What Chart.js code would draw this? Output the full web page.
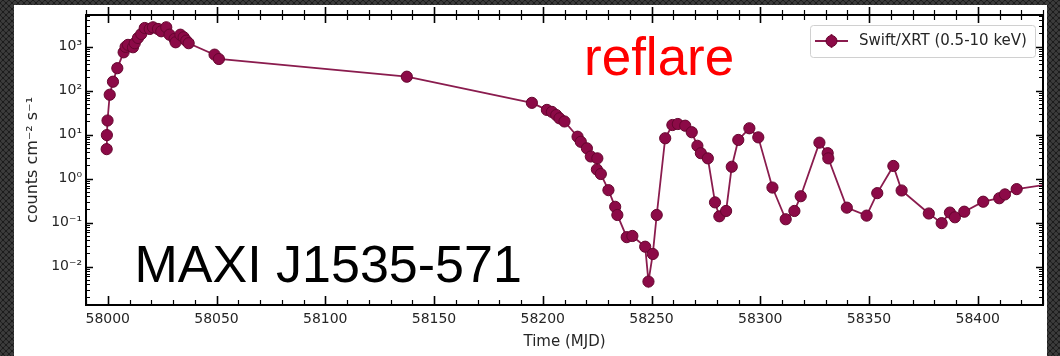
<!DOCTYPE html>
<html><head><meta charset="utf-8">
<script src="https://cdn.jsdelivr.net/npm/chart.js@4"></script>
<style>
html,body{margin:0;padding:0;}
body{width:1060px;height:356px;overflow:hidden;background-color:#1c1c1c;
background-image:radial-gradient(circle at 50% 50%, #3c3c3c 0 1.5px, transparent 2.2px),radial-gradient(circle at 50% 50%, #3c3c3c 0 1.5px, transparent 2.2px);
background-size:6px 6px;background-position:0 0,3px 3px;}
#wrap{position:absolute;left:0;top:0;width:1060px;height:356px;}
</style></head><body>
<div id="wrap"><canvas id="c" width="1060" height="356"></canvas></div>
<script>
// ---- data ----
const mjd = [57999.5,57999.6,57999.9,58000.9,58002.4,58004.4,58007.3,58008.2,58009.3,58011.6,
58012.4,58013.9,58015.4,58017.0,58019.3,58020.8,58023.1,58024.6,58026.9,58028.4,
58030.7,58031.2,58033.4,58034.9,58036.1,58037.2,58049.1,58051.1,58137.5,58195.0,
58201.9,58204.2,58206.2,58207.7,58210.0,58216.0,58217.5,58220.3,58222.1,58225.1,
58224.9,58226.7,58230.2,58233.3,58234.3,58238.6,58241.2,58247.1,58248.6,58250.6,
58252.4,58256.3,58259.6,58262.1,58265.5,58268.5,58271.1,58272.7,58275.9,58279.2,
58281.2,58284.3,58286.9,58289.9,58295.0,58299.1,58305.6,58311.7,58315.7,58318.6,
58327.2,58331.0,58331.3,58339.8,58348.9,58353.8,58361.2,58365.0,58377.5,58383.4,
58387.2,58389.5,58393.8,58402.5,58409.9,58412.5,58417.9,58433.0];
const rate = [4.7,9.8,21,81,160,325,745,990,1100,970,
1200,1580,1940,2660,2530,2760,2530,2240,2760,1875,
1500,1260,1875,1640,1370,1200,660,525,208,53,
36.6,33,28,23.6,20,9,6.9,4.9,3.2,2.9,
1.62,1.28,0.55,0.23,0.15,0.047,0.05,0.0285,0.0046,0.0195,
0.15,8.3,16.6,17.5,16,11.4,5.6,3.8,2.9,0.29,
0.14,0.185,1.87,7.6,14,8.7,0.63,0.12,0.185,0.40,
6.6,3.8,2.9,0.22,0.145,0.47,1.95,0.54,0.162,0.098,
0.17,0.133,0.178,0.30,0.36,0.44,0.58,0.75];
const seriesLabel = 'Swift/XRT (0.5-10 keV)';
const xTickValues = [58000,58050,58100,58150,58200,58250,58300,58350,58400];
const xTickLabels = ['58000','58050','58100','58150','58200','58250','58300','58350','58400'];
const yTickValues = [0.01,0.1,1,10,100,1000];
const yTickLabels = ['10\u207B\u00B2','10\u207B\u00B9','10\u2070','10\u00B9','10\u00B2','10\u00B3'];
const xTitle = 'Time (MJD)';
const yTitle = 'counts cm\u207B\u00B2 s\u207B\u00B9';
const annotSource = 'MAXI J1535-571';
const annotPhase = 'reflare';

const X_MIN = 57990, X_MAX = 58430, Y_MIN = 0.00135, Y_MAX = 5250;
const MARK = '#8c0a47', MARK_EDGE = '#66062f', LINE = '#8a1c4e';

const panelPlugin = {
  id: 'panel',
  beforeDraw(chart) {
    const ctx = chart.ctx;
    ctx.save();
    ctx.fillStyle = '#ffffff';
    ctx.fillRect(14, 5, 1033, 351);
    ctx.restore();
  },
  afterDraw(chart) {
    const {ctx, chartArea: {left, right, top, bottom}, scales: {x, y}} = chart;
    ctx.save();
    ctx.strokeStyle = '#000';
    for (let v = X_MIN; v <= X_MAX; v += 10) {
      const px = Math.round(x.getPixelForValue(v)) + 0.5;
      const major = v % 50 === 0;
      ctx.lineWidth = major ? 1.6 : 1.2;
      ctx.beginPath();
      ctx.moveTo(px, bottom); ctx.lineTo(px, bottom - (major ? 9 : 5));
      ctx.moveTo(px, top - (major ? 8 : 5)); ctx.lineTo(px, top + (major ? 8 : 5));
      ctx.stroke();
    }
    for (let e = -3; e <= 3; e++) {
      for (let m = 1; m <= 9; m++) {
        const v = m * Math.pow(10, e);
        if (v < Y_MIN || v > Y_MAX) continue;
        const py = Math.round(y.getPixelForValue(v)) + 0.5;
        const major = m === 1;
        const len = major ? 7 : 4;
        ctx.lineWidth = major ? 1.6 : 1.2;
        ctx.beginPath();
        ctx.moveTo(left, py); ctx.lineTo(left + len, py);
        ctx.moveTo(right, py); ctx.lineTo(right - len, py);
        ctx.stroke();
      }
    }
    ctx.lineWidth = 2;
    ctx.strokeRect(left, top, right - left, bottom - top);

    // legend
    const lx = 810, ly = 25, lw = 225, lh = 32;
    ctx.fillStyle = 'rgba(255,255,255,0.85)';
    ctx.strokeStyle = '#d0d0d0';
    ctx.lineWidth = 1;
    ctx.beginPath();
    ctx.roundRect(lx + 0.5, ly + 0.5, lw, lh, 3);
    ctx.fill(); ctx.stroke();
    const cy = ly + lh / 2;
    ctx.strokeStyle = LINE; ctx.lineWidth = 1.8;
    ctx.beginPath(); ctx.moveTo(815, cy); ctx.lineTo(848, cy);
    ctx.moveTo(831.5, cy - 7); ctx.lineTo(831.5, cy + 7); ctx.stroke();
    ctx.beginPath(); ctx.arc(831.5, cy, 5.5, 0, Math.PI * 2);
    ctx.fillStyle = MARK; ctx.fill();
    ctx.strokeStyle = MARK_EDGE; ctx.lineWidth = 1; ctx.stroke();
    ctx.fillStyle = '#262626';
    ctx.font = '15px "DejaVu Sans"';
    ctx.textBaseline = 'middle'; ctx.textAlign = 'left';
    ctx.fillText(chart.data.datasets[0].label, 859, cy);

    // annotations
    ctx.textBaseline = 'alphabetic';
    ctx.fillStyle = '#ff0000';
    ctx.font = '53px "Liberation Sans", Arial, sans-serif';
    ctx.fillText(annotPhase, 584, 75);
    ctx.fillStyle = '#000000';
    ctx.font = '52px "Liberation Sans", Arial, sans-serif';
    ctx.fillText(annotSource, 134.5, 282);
    ctx.restore();
  }
};

new Chart(document.getElementById('c'), {
  type: 'line',
  data: {
    datasets: [{
      label: seriesLabel,
      data: mjd.map((m, i) => ({x: m, y: rate[i]})),
      borderColor: LINE,
      borderWidth: 1.8,
      pointRadius: 5.6,
      pointBackgroundColor: MARK,
      pointBorderColor: MARK_EDGE,
      pointBorderWidth: 1,
      tension: 0,
      fill: false
    }]
  },
  options: {
    responsive: false,
    animation: false,
    layout: {padding: {left: 14, right: 17, top: 15, bottom: 0}},
    plugins: {legend: {display: false}, tooltip: {enabled: false}},
    scales: {
      x: {
        type: 'linear', min: X_MIN, max: X_MAX,
        grid: {display: false, drawTicks: false},
        border: {display: false},
        afterBuildTicks: s => { s.ticks = xTickValues.map(v => ({value: v})); },
        afterFit: s => { s.height = 51; },
        ticks: {
          autoSkip: false, maxRotation: 0, padding: 6,
          color: '#262626', font: {family: '"DejaVu Sans"', size: 14},
          callback: (v, i) => xTickLabels[i]
        },
        title: {display: true, text: xTitle, color: '#262626',
          font: {family: '"DejaVu Sans"', size: 15}, padding: {top: 0, bottom: 5}}
      },
      y: {
        type: 'logarithmic', min: Y_MIN, max: Y_MAX,
        grid: {display: false, drawTicks: false},
        border: {display: false},
        afterBuildTicks: s => { s.ticks = yTickValues.map(v => ({value: v})); },
        afterFit: s => { s.width = 72; },
        ticks: {
          autoSkip: false, padding: 4,
          color: '#262626', font: {family: '"DejaVu Sans"', size: 14},
          callback: (v, i) => yTickLabels[i]
        },
        title: {display: true, text: yTitle, color: '#262626',
          font: {family: '"DejaVu Sans"', size: 16}, padding: {top: 9, bottom: 0}}
      }
    }
  },
  plugins: [panelPlugin]
});
</script>
</body></html>
